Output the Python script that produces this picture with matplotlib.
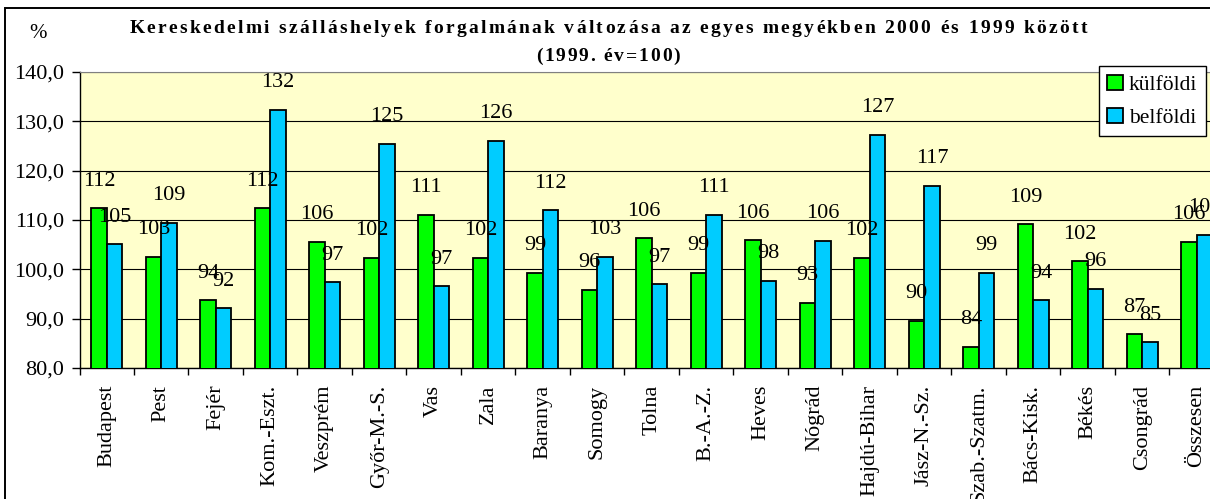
"""Hungarian county accommodation turnover change, 2000 vs 1999."""
import matplotlib
import numpy as np

matplotlib.use("Agg")
from matplotlib import pyplot as plt
from matplotlib.patches import Rectangle
from matplotlib.ticker import FuncFormatter

plt.rcParams["font.family"] = ["Liberation Serif", "DejaVu Serif"]

counties = [
    "Budapest", "Pest", "Fejér", "Kom.-Eszt.", "Veszprém", "Győr-M.-S.", "Vas",
    "Zala", "Baranya", "Somogy", "Tolna", "B.-A.-Z.", "Heves", "Nógrád",
    "Hajdú-Bihar", "Jász-N.-Sz.", "Szab.-Szatm.", "Bács-Kisk.", "Békés",
    "Csongrád", "Összesen",
]
foreign = [
    112.4, 102.6, 93.7, 112.4, 105.6, 102.3, 111.1,
    102.3, 99.3, 95.8, 106.3, 99.3, 105.9, 93.2,
    102.3, 89.6, 84.3, 109.1, 101.6,
    86.8, 105.6,
]
domestic = [
    105.1, 109.4, 92.1, 132.3, 97.4, 125.4, 96.6,
    126.1, 112.0, 102.6, 97.0, 111.1, 97.7, 105.8,
    127.3, 116.9, 99.3, 93.7, 96.1,
    85.2, 107.0,
]
series_names = ["külföldi", "belföldi"]
y_ticks = [80, 90, 100, 110, 120, 130, 140]
title_line1 = "Kereskedelmi szálláshelyek forgalmának változása az egyes megyékben 2000 és 1999 között"
title_line2 = "(1999. év=100)"

W, H = 1210, 499
GREEN = "#00FF00"
BLUE = "#00CCFF"


def spaced_text(fig, text, x_center_px, baseline_px, spacing_px, **kw):
    """Draw text with extra letter spacing, centred on x_center_px."""
    renderer = fig.canvas.get_renderer()

    def width(s):
        t = fig.text(0, 0, s, **kw)
        w = t.get_window_extent(renderer).width
        t.remove()
        return w

    base = width("xx")
    advances = [width("x" + ch + "x") - base for ch in text]
    total = sum(advances) + spacing_px * (len(text) - 1)
    x = x_center_px - total / 2
    for ch, adv in zip(text, advances):
        fig.text(x / W, 1 - baseline_px / H, ch, ha="left", va="baseline", **kw)
        x += adv + spacing_px


fig = plt.figure(figsize=(W / 100, H / 100), dpi=100)
ax = fig.add_axes([79.5 / W, 1 - 368 / H, 21 * 54.5 / W, (368 - 72) / H])

x = np.arange(len(counties))
bar_w = 0.28
bars_f = ax.bar(x - bar_w / 2, foreign, bar_w, color=GREEN, edgecolor="black",
                linewidth=1.3, label=series_names[0], zorder=3)
bars_d = ax.bar(x + bar_w / 2, domestic, bar_w, color=BLUE, edgecolor="black",
                linewidth=1.3, label=series_names[1], zorder=3)

for xs, vals in ((x - bar_w / 2, foreign), (x + bar_w / 2, domestic)):
    for xi, v in zip(xs, vals):
        ax.annotate(f"{v:.0f}", xy=(xi, v), xytext=(0, 19.5), textcoords="offset points",
                    ha="center", va="center", fontsize=16, zorder=5, annotation_clip=False)

ax.set_xlim(-0.5, len(counties) - 0.5)
ax.set_ylim(80, 140)
ax.set_yticks(y_ticks)
ax.yaxis.set_major_formatter(FuncFormatter(lambda v, _: f"{v:.1f}".replace(".", ",")))
ax.set_xticks(x, counties, rotation=90)
ax.set_xticks(np.arange(-0.5, len(counties), 1), minor=True)
ax.tick_params(axis="x", which="major", length=0, pad=12, labelsize=16)
ax.tick_params(axis="x", which="minor", length=5, width=1, direction="out")
ax.tick_params(axis="y", length=6, width=1, pad=5, labelsize=16)

ax.set_facecolor("#FFFFCC")
ax.yaxis.grid(True, color="black", linewidth=0.8)
ax.set_axisbelow(True)
for side in ("top", "right"):
    ax.spines[side].set_color("#808080")
for side in ("left", "bottom"):
    ax.spines[side].set_linewidth(1.0)

fig.legend(
    handles=[bars_f, bars_d],
    loc="upper right",
    bbox_to_anchor=(1206 / W, 1 - 66 / H),
    bbox_transform=fig.transFigure,
    fancybox=False,
    edgecolor="black",
    framealpha=1,
    fontsize=15.5,
    handlelength=0.7,
    handleheight=0.7,
    handletextpad=0.3,
    labelspacing=0.6,
    borderpad=0.4,
    borderaxespad=0,
)

fig.add_artist(Rectangle((5 / W, -0.05), 1.0, 1 - 8 / H + 0.05, transform=fig.transFigure,
                         fill=False, edgecolor="black", linewidth=1.4, clip_on=False))

fig.text(38 / W, 1 - 34 / H, "%", ha="center", va="center", fontsize=15)
spaced_text(fig, title_line1, 608, 33, 2.3, fontsize=14, fontweight="bold")
spaced_text(fig, title_line2, 608, 61, 1.8, fontsize=14, fontweight="bold")

fig.savefig("out.png", dpi=100)
plt.close(fig)
